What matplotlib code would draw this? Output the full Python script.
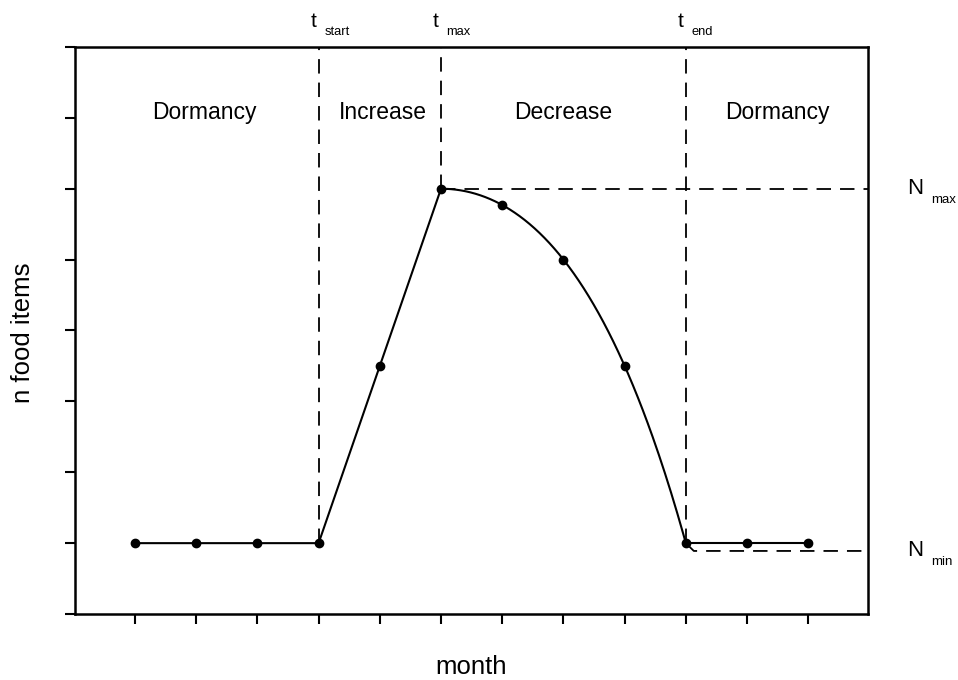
import numpy as np
import matplotlib
matplotlib.use("Agg")
import matplotlib.pyplot as plt

plt.rcParams['font.family'] = ['Liberation Sans', 'DejaVu Sans']

months = [1, 2, 3, 4, 5, 6, 7, 8, 9, 10, 11, 12]
food = [1.0, 1.0, 1.0, 1.0, 3.5, 6.0, 5.77, 5.0, 3.5, 1.0, 1.0, 1.0]
n_max = 6.0
n_min_end = 0.89
t_start, t_max, t_end = 4, 6, 10
phase_names = ["Dormancy", "Increase", "Decrease", "Dormancy"]
phase_centers = [2.14, 5.05, 7.99, 11.5]

fig = plt.figure(figsize=(9.58, 6.8), dpi=100)
ax = fig.add_axes([0.0783, 0.097, 0.828, 0.834])

x = np.array(months, dtype=float)
y = np.array(food, dtype=float)
col = 'black'
dash = (0, (8, 5))

# solid segments
ax.plot(x[:6], y[:6], color=col, lw=1.5)
ax.plot(x[9:], y[9:], color=col, lw=1.5)
# smooth decrease curve through points 6..10
coef = np.polyfit(x[5:10], y[5:10], 4)
xs = np.linspace(x[5], x[9], 200)
ax.plot(xs, np.polyval(coef, xs), color=col, lw=1.5)
ax.plot(x, y, 'o', color=col, ms=6)

# dashed reference lines
for t in (t_start, t_max, t_end):
    ax.plot([t, t], [food[t - 1], 8.5], color=col, lw=1.3, ls=dash)
ax.plot([t_max, 13], [n_max, n_max], color=col, lw=1.3, ls=dash)
ax.plot([t_end, 10.13, 13], [food[t_end - 1], n_min_end, n_min_end],
        color=col, lw=1.3, ls=dash)

ax.set_xlim(0.02, 12.98)
ax.set_ylim(0, 8)
ax.set_xticks(months)
ax.set_xticklabels([])
ax.set_yticks(range(0, 9))
ax.set_yticklabels([])
ax.tick_params(direction='out', length=7, width=1.5)
for s in ax.spines.values():
    s.set_linewidth(1.8)

for name, cx in zip(phase_names, phase_centers):
    ax.text(cx, 7.08, name, ha='center', va='center', fontsize=16.5)

# t labels above the axes
for t, sub in ((t_start, 'start'), (t_max, 'max'), (t_end, 'end')):
    ax.annotate('t', xy=(t, 1.0), xycoords=('data', 'axes fraction'),
                xytext=(-1.5, 18), textcoords='offset points', ha='right',
                va='center', fontsize=15, annotation_clip=False)
    ax.annotate(sub, xy=(t, 1.0), xycoords=('data', 'axes fraction'),
                xytext=(4, 11), textcoords='offset points', ha='left',
                va='center', fontsize=9.3, annotation_clip=False)

# N labels to the right
for val, sub in ((n_max, 'max'), (n_min_end, 'min')):
    ax.annotate('N', xy=(1.0, val), xycoords=('axes fraction', 'data'),
                xytext=(28, 0), textcoords='offset points', ha='left',
                va='center', fontsize=16, annotation_clip=False)
    ax.annotate(sub, xy=(1.0, val), xycoords=('axes fraction', 'data'),
                xytext=(45.5, -8), textcoords='offset points', ha='left',
                va='center', fontsize=9.5, annotation_clip=False)

fig.text(471 / 958, 1 - 667 / 680, 'month', ha='center', va='center', fontsize=18.5)
fig.text(23 / 958, 1 - 333 / 680, 'n food items', ha='center', va='center',
         rotation=90, fontsize=18.5)

fig.savefig('out.png', dpi=100)
